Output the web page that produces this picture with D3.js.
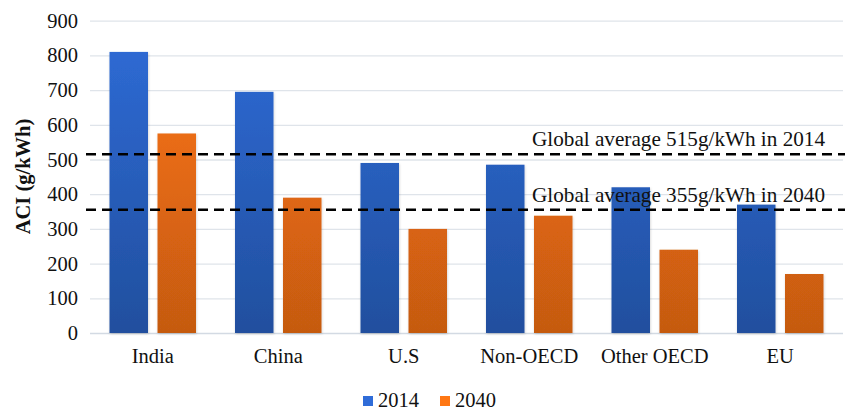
<!DOCTYPE html>
<html>
<head>
<meta charset="utf-8">
<script src="https://cdn.jsdelivr.net/npm/d3@7"></script>
<style>
  html, body { margin: 0; padding: 0; background: #fff; }
  svg { display: block; }
  svg text { font-family: "Liberation Serif", "Times New Roman", serif; }
</style>
</head>
<body>
<svg id="chart" width="845" height="409"></svg>
<script>
// Average carbon intensity of electricity by region
const categories = ["India", "China", "U.S", "Non-OECD", "Other OECD", "EU"];
const years = ["2014", "2040"];
const values2014 = [810, 695, 490, 485, 420, 370];
const values2040 = [575, 390, 300, 338, 240, 170];
const yTicks = [0, 100, 200, 300, 400, 500, 600, 700, 800, 900];
const globalAverages = [
  { value: 515, label: "Global average 515g/kWh in 2014" },
  { value: 355, label: "Global average 355g/kWh in 2040" }
];

const svg = d3.select("#chart");
const W = 845, H = 409;
const margin = { left: 90, right: 2, top: 20.7, bottom: 76 };
const FS = 20.5;

const x0 = d3.scaleBand().domain(categories).range([margin.left, W - margin.right]).padding(0);
const barGap = 9.5, barW = 38.5;
const pairW = 2 * barW + barGap;
const x1 = d3.scaleBand().domain(years)
  .range([(x0.bandwidth() - pairW) / 2, (x0.bandwidth() + pairW) / 2])
  .paddingInner(barGap / (barW + barGap)).paddingOuter(0);
const y = d3.scaleLinear().domain([0, 900]).range([H - margin.bottom, margin.top]);

const defs = svg.append("defs");
const grads = { "2014": ["#2f6cd8", "#214f9e"], "2040": ["#ff7714", "#c55a11"] };
Object.entries(grads).forEach(([k, [top, bot]]) => {
  const g = defs.append("linearGradient").attr("id", "g" + k)
    .attr("gradientUnits", "userSpaceOnUse")
    .attr("x1", 0).attr("x2", 0).attr("y1", y(900)).attr("y2", y(0));
  g.append("stop").attr("offset", "0%").attr("stop-color", top);
  g.append("stop").attr("offset", "100%").attr("stop-color", bot);
});
const shadow = defs.append("filter").attr("id", "shadow").attr("x", "-20%").attr("y", "-5%").attr("width", "140%").attr("height", "115%");
shadow.append("feDropShadow").attr("dx", 0.5).attr("dy", 1).attr("stdDeviation", 1).attr("flood-color", "#000").attr("flood-opacity", 0.18);

// Gridlines and tick labels
const yAxis = d3.axisLeft(y).tickValues(yTicks).tickSize(-(W - margin.right - margin.left)).tickPadding(12);
const ga = svg.append("g").attr("transform", `translate(${margin.left},0)`).call(yAxis)
  .attr("font-family", null).attr("font-size", FS);
ga.select(".domain").remove();
ga.selectAll(".tick line").attr("stroke", "#dfe4ea").attr("stroke-width", 1.3);
ga.selectAll(".tick text").attr("fill", "#111");
ga.selectAll(".tick").filter(d => d === 0).select("line").attr("stroke", "#d3dae3").attr("stroke-width", 1.6);

// Bars
const data = categories.map((c, i) => ({ c, vals: [{ k: "2014", v: values2014[i] }, { k: "2040", v: values2040[i] }] }));
const groups = svg.append("g").selectAll("g").data(data).join("g")
  .attr("transform", d => `translate(${x0(d.c)},0)`);
groups.selectAll("rect").data(d => d.vals).join("rect")
  .attr("x", d => x1(d.k))
  .attr("width", x1.bandwidth())
  .attr("y", d => y(d.v))
  .attr("height", d => y(0) - y(d.v))
  .attr("fill", d => `url(#g${d.k})`)
  .attr("filter", "url(#shadow)");

// Category labels
const xAxis = d3.axisBottom(x0).tickSize(0).tickPadding(15);
const gx = svg.append("g").attr("transform", `translate(0,${y(0)})`).call(xAxis)
  .attr("font-family", null).attr("font-size", FS);
gx.select(".domain").remove();
gx.selectAll(".tick text").attr("fill", "#111");

// Global average reference lines
globalAverages.forEach(a => {
  svg.append("line")
    .attr("x1", 86).attr("x2", W)
    .attr("y1", y(a.value)).attr("y2", y(a.value))
    .attr("stroke", "#000").attr("stroke-width", 2.6)
    .attr("stroke-dasharray", "10,6");
  svg.append("text")
    .attr("x", 532).attr("y", y(a.value) - 8)
    .attr("font-size", 21.2).attr("fill", "#111")
    .text(a.label);
});

// Y axis title
svg.append("text")
  .attr("transform", "translate(30,176.5) rotate(-90)")
  .attr("text-anchor", "middle")
  .attr("font-size", FS).attr("font-weight", "bold").attr("fill", "#111")
  .text("ACI (g/kWh)");

// Legend
const legend = svg.append("g").attr("transform", "translate(363,396)");
const legendItems = legend.selectAll("g").data(years).join("g")
  .attr("transform", (d, i) => `translate(${i * 77},0)`);
legendItems.append("rect").attr("width", 10).attr("height", 10)
  .attr("fill", d => grads[d][0]);
legendItems.append("text").attr("x", 15).attr("y", 10.5)
  .attr("font-size", FS).attr("fill", "#111").text(d => d);
</script>
</body>
</html>
